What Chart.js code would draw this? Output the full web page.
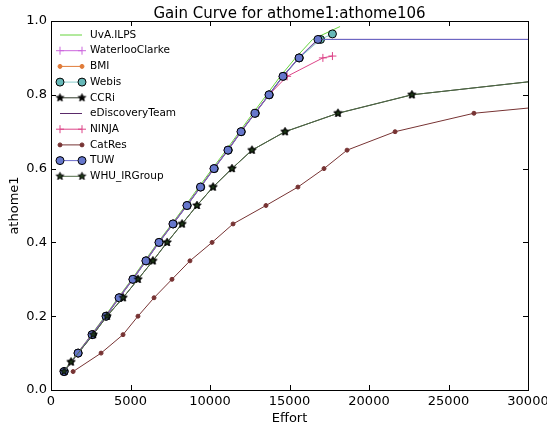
<!DOCTYPE html>
<html>
<head>
<meta charset="utf-8">
<script src="https://cdn.jsdelivr.net/npm/chart.js@4/dist/chart.umd.min.js"></script>
<style>
  html, body { margin: 0; padding: 0; background: #fff; }
</style>
</head>
<body>
<canvas id="gain" width="547" height="429"></canvas>
<script>
// recall levels shared by most runs
const recall = [0.05, 0.1, 0.15, 0.2, 0.25, 0.3, 0.35, 0.4, 0.45, 0.5,
                0.55, 0.6, 0.65, 0.7, 0.75, 0.8, 0.85, 0.9, 0.95];

const uvaX      = [780, 1660, 2540, 3400, 4220, 5080, 5900, 6720, 7600, 8460, 9300, 10150, 11020, 11850, 12700, 13560, 14420, 15380, 16450, 18180];
const uvaY      = [...recall, 0.985];
const waterlooX = [800, 1680, 2560, 3440, 4260, 5120, 5950, 6770, 7650, 8520, 9380, 10230, 11100, 11930, 12810, 13690, 14570, 15580, 16760, 41000];
const waterlooY = [...recall, 0.95];
const bmiX      = [830, 1710, 2590, 3470, 4290, 5160, 5980, 6800, 7680, 8560, 9410, 10260, 11140, 11960, 12840, 13720, 14600, 15610, 16800];
const bmiY      = [...recall];
const webisX    = [830, 1710, 2600, 3480, 4300, 5170, 5990, 6810, 7690, 8570, 9420, 10270, 11150, 11970, 12850, 13730, 14610, 15620, 16950, 17700];
const webisY    = [...recall, 0.965];
const ccriX     = [820, 1260, 2650, 3520, 4530, 5470, 6410, 7300, 8240, 9180, 10190, 11380, 12640, 14720, 18050, 22700, 33100];
const ccriY     = [0.05, 0.076, 0.15, 0.2, 0.25, 0.3, 0.35, 0.4, 0.45, 0.5, 0.55, 0.6, 0.65, 0.7, 0.75, 0.8, 0.85];
const ediscX    = [810, 1690, 2570, 3450, 4270, 5140, 5960, 6780, 7660, 8540, 9390, 10240, 11120, 11940, 12820, 13700, 14580, 15590, 16780, 42000];
const ediscY    = [...recall, 0.95];
const ninjaX    = [820, 1700, 2580, 3460, 4280, 5150, 5970, 6790, 7670, 8550, 9400, 10250, 11130, 11950, 12830, 13710, 14850, 17100, 17700];
const ninjaY    = [0.05, 0.1, 0.15, 0.2, 0.25, 0.3, 0.35, 0.4, 0.45, 0.5, 0.55, 0.6, 0.65, 0.7, 0.75, 0.8, 0.85, 0.9, 0.905];
const catresX   = [1390, 3150, 4530, 5470, 6480, 7610, 8740, 10130, 11450, 13520, 15530, 17170, 18620, 21640, 26600, 38700];
const catresY   = [0.05, 0.1, 0.15, 0.2, 0.25, 0.3, 0.35, 0.4, 0.45, 0.5, 0.55, 0.6, 0.65, 0.7, 0.75, 0.8];
const tuwX      = [820, 1700, 2580, 3460, 4280, 5150, 5970, 6790, 7670, 8550, 9400, 10250, 11130, 11950, 12830, 13710, 14590, 15600, 16790, 40000];
const tuwY      = [...recall, 0.95];
const whuX      = [...ccriX];
const whuY      = [...ccriY];

const xTicks = [0, 5000, 10000, 15000, 20000, 25000, 30000];
const yTicks = [0, 0.2, 0.4, 0.6, 0.8, 1.0];

const FONT = 'DejaVu Sans';
Chart.defaults.font.family = FONT;

const pts = (xs, ys) => xs.map((x, i) => ({ x: x, y: ys[i] }));

function starMarker(fill, edge, r) {
    const size = Math.ceil(r * 2 + 3);
    const c = document.createElement('canvas');
    c.width = c.height = size;
    const g = c.getContext('2d');
    g.translate(size / 2, size / 2);
    g.beginPath();
    for (let i = 0; i < 10; i++) {
        const rr = i % 2 ? r * 0.42 : r;
        const a = -Math.PI / 2 + i * Math.PI / 5;
        g.lineTo(rr * Math.cos(a), rr * Math.sin(a));
    }
    g.closePath();
    g.fillStyle = fill;
    g.fill();
    g.lineWidth = 1;
    g.strokeStyle = edge;
    g.stroke();
    return c;
}

function series(label, xs, ys, color, mark) {
    return Object.assign({
        label: label,
        data: pts(xs, ys),
        borderColor: color,
        backgroundColor: color,
        borderWidth: 1,
        pointRadius: 0,
        pointStyle: 'circle',
        pointBorderWidth: 1,
        pointBorderColor: color,
        pointBackgroundColor: color,
        tension: 0
    }, mark || {});
}

const datasets = [
    series('UvA.ILPS', uvaX, uvaY, '#66d43c'),
    series('WaterlooClarke', waterlooX, waterlooY, '#cc66dd', { pointStyle: 'cross', pointRadius: 4 }),
    series('BMI', bmiX, bmiY, '#e07b39', { pointRadius: 2 }),
    series('Webis', webisX, webisY, '#88cccc', { pointRadius: 4, pointBackgroundColor: '#66b8b8', pointBorderColor: '#000' }),
    series('CCRi', ccriX, ccriY, '#2f3a2a', { pointRadius: 5, pointStyle: starMarker('#000', '#000', 4) }),
    series('eDiscoveryTeam', ediscX, ediscY, '#5a2a6a'),
    series('NINJA', ninjaX, ninjaY, '#dd4488', { pointStyle: 'cross', pointRadius: 4 }),
    series('CatRes', catresX, catresY, '#773333', { pointRadius: 2 }),
    series('TUW', tuwX, tuwY, '#6c6cc8', { pointRadius: 4, pointBackgroundColor: '#6677cc', pointBorderColor: '#000' }),
    series('WHU_IRGroup', whuX, whuY, '#4f6a45', { pointRadius: 5, pointStyle: starMarker('#1f3a18', '#000', 4) })
];
// matplotlib stacking: later runs on top
datasets.forEach((d, i) => { d.order = datasets.length - i; });

function drawMark(ctx, ds, x, y) {
    const st = ds.pointStyle, r = ds.pointRadius;
    if (st instanceof HTMLCanvasElement) {
        ctx.drawImage(st, x - st.width / 2, y - st.height / 2);
        return;
    }
    ctx.lineWidth = ds.pointBorderWidth;
    ctx.strokeStyle = ds.pointBorderColor;
    ctx.fillStyle = ds.pointBackgroundColor;
    if (st === 'cross') {
        ctx.beginPath();
        ctx.moveTo(x - r, y); ctx.lineTo(x + r, y);
        ctx.moveTo(x, y - r); ctx.lineTo(x, y + r);
        ctx.stroke();
    } else {
        ctx.beginPath();
        ctx.arc(x, y, r, 0, Math.PI * 2);
        ctx.fill();
        ctx.stroke();
    }
}

const framePlugin = {
    id: 'frameTicks',
    afterDatasetsDraw(chart) {
        const { ctx, chartArea: a, scales } = chart;
        const len = 5;
        ctx.save();
        ctx.strokeStyle = '#000';
        ctx.lineWidth = 1;
        ctx.strokeRect(a.left + 0.5, a.top + 0.5, a.right - a.left, a.bottom - a.top);
        ctx.beginPath();
        xTicks.forEach(v => {
            const px = Math.round(scales.x.getPixelForValue(v)) + 0.5;
            ctx.moveTo(px, a.bottom); ctx.lineTo(px, a.bottom - len);
            ctx.moveTo(px, a.top); ctx.lineTo(px, a.top + len);
        });
        yTicks.forEach(v => {
            const py = Math.round(scales.y.getPixelForValue(v)) + 0.5;
            ctx.moveTo(a.left, py); ctx.lineTo(a.left + len, py);
            ctx.moveTo(a.right, py); ctx.lineTo(a.right - len, py);
        });
        ctx.stroke();
        ctx.restore();
    }
};

const legendPlugin = {
    id: 'innerLegend',
    afterDraw(chart) {
        const { ctx, chartArea: a } = chart;
        const x0 = a.left + 9, x1 = a.left + 31, tx = a.left + 39;
        ctx.save();
        ctx.font = '10.5px "' + FONT + '"';
        ctx.textBaseline = 'middle';
        chart.data.datasets.forEach((ds, i) => {
            const y = a.top + 14 + i * 15.7;
            ctx.strokeStyle = ds.borderColor;
            ctx.lineWidth = 1;
            ctx.beginPath();
            ctx.moveTo(x0, y); ctx.lineTo(x1, y);
            ctx.stroke();
            if (ds.pointRadius > 0) {
                drawMark(ctx, ds, x0, y);
                drawMark(ctx, ds, x1, y);
            }
            ctx.fillStyle = '#000';
            ctx.fillText(ds.label, tx, y);
        });
        ctx.restore();
    }
};

new Chart(document.getElementById('gain'), {
    type: 'line',
    data: { datasets: datasets },
    plugins: [framePlugin, legendPlugin],
    options: {
        responsive: false,
        animation: false,
        events: [],
        layout: { padding: { left: 0, right: 19, top: 0, bottom: 0 } },
        plugins: {
            legend: { display: false },
            tooltip: { enabled: false },
            title: {
                display: true,
                text: 'Gain Curve for athome1:athome106',
                color: '#000',
                fullSize: false,
                font: { family: FONT, size: 15, weight: 'normal', lineHeight: 1 },
                padding: { top: 7, bottom: -1 }
            }
        },
        scales: {
            x: {
                type: 'linear',
                min: 0, max: 30000,
                grid: { display: false, drawTicks: false },
                border: { display: false },
                ticks: {
                    stepSize: 5000, color: '#000', padding: 4, maxRotation: 0, autoSkip: false,
                    font: { family: FONT, size: 13 },
                    callback: v => String(v)
                },
                title: {
                    display: true, text: 'Effort', color: '#000',
                    font: { family: FONT, size: 13 },
                    padding: { top: 0, bottom: 3 }
                },
                afterFit(s) { s.height = 39; s.paddingLeft = 0; s.paddingRight = 0; }
            },
            y: {
                type: 'linear',
                min: 0, max: 1,
                grid: { display: false, drawTicks: false },
                border: { display: false },
                ticks: {
                    stepSize: 0.2, color: '#000', padding: 4, autoSkip: false,
                    font: { family: FONT, size: 13 },
                    callback: v => v.toFixed(1)
                },
                title: {
                    display: true, text: 'athome1', color: '#000',
                    font: { family: FONT, size: 13 },
                    padding: { top: 7, bottom: 0 }
                },
                afterFit(s) { s.width = 51; s.paddingTop = 0; s.paddingBottom = 0; }
            }
        }
    }
});
</script>
</body>
</html>
